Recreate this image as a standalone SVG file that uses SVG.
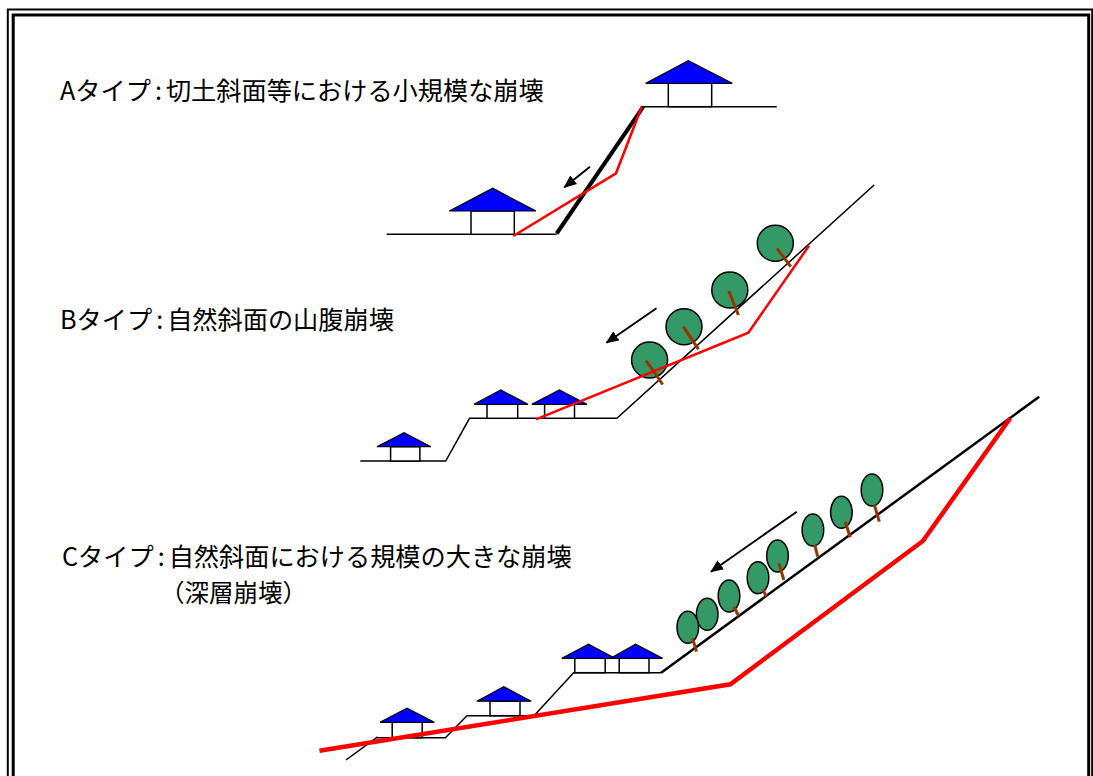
<svg xmlns="http://www.w3.org/2000/svg" width="1093" height="776" viewBox="0 0 1093 776">
  <style>
    .label { font-family: "Noto Sans CJK JP", "Liberation Sans", sans-serif; font-size: 25.2px; fill: #000; }
    .ground { fill: none; stroke: #000; stroke-width: 1.5; stroke-linejoin: miter; }
    .slip { fill: none; stroke: #ff0000; stroke-width: 2.5; stroke-linejoin: miter; }
    .roof { fill: #0000ff; stroke: #000; stroke-width: 1.2; stroke-linejoin: miter; }
    .wall { fill: #fff; stroke: #000; stroke-width: 1.5; }
    .crown { fill: #339966; stroke: #000; stroke-width: 1.5; }
    .trunk { stroke: #993300; stroke-width: 3; stroke-linecap: butt; }
    .flow { fill: none; stroke: #000; stroke-width: 2; marker-end: url(#head); }
  </style>
  <defs>
    <marker id="head" markerUnits="userSpaceOnUse" markerWidth="14" markerHeight="12" refX="12" refY="5.5" orient="auto">
      <path d="M0,0 L13,5.5 L0,11 z" fill="#000"/>
    </marker>
  </defs>

  <rect x="0" y="0" width="1093" height="776" fill="#fff"/>

  <!-- double frame -->
  <g id="frame" fill="none">
    <rect x="7.8" y="9.5" width="1084.4" height="800" stroke="#000" stroke-width="2"/>
    <rect x="13.2" y="15" width="1075.5" height="800" stroke="#000" stroke-width="3"/>
  </g>

  <!-- titles -->
  <g id="titles" class="label">
    <text x="60" y="100">Aタイプ<tspan dx="4">:</tspan><tspan dx="4">切土斜面等における小規模な崩壊</tspan></text>
    <text x="60" y="329">Bタイプ<tspan dx="4">:</tspan><tspan dx="4">自然斜面の山腹崩壊</tspan></text>
    <text x="62" y="566">Cタイプ<tspan dx="4">:</tspan><tspan dx="4">自然斜面における規模の大きな崩壊</tspan></text>
    <text x="160" y="602" style="font-size:24.5px">（深層崩壊）</text>
  </g>

  <!-- Type A: cut slope -->
  <g id="typeA">
    <polyline class="ground" points="386.7,234.3 556.7,234.3"/>
    <polyline class="ground" points="643,106.7 776.7,106.7"/>
    <line x1="643.3" y1="106.7" x2="556.7" y2="233.5" stroke="#000" stroke-width="4"/>
    <g id="houseA1">
      <rect class="wall" x="668.3" y="83.3" width="43.4" height="23.4"/>
      <polygon class="roof" points="645.7,83.3 688.3,60.7 732.3,83.3"/>
    </g>
    <g id="houseA2">
      <rect class="wall" x="471" y="211" width="43.3" height="23.3"/>
      <polygon class="roof" points="449.3,211 492.7,188.3 536,211"/>
    </g>
    <polyline class="slip" points="513.3,236 616,173.3 641.7,106.7"/>
  </g>

  <!-- Type B: natural slope, hillside failure -->
  <g id="typeB">
    <polyline class="ground" points="360.3,461 445.7,461 469.5,418.3 616.9,418.3 874.1,185"/>
    <g id="houseB1">
      <rect class="wall" x="390.6" y="446.7" width="29.3" height="14.3"/>
      <polygon class="roof" points="376.9,446.7 404.1,432.7 430.9,446.7"/>
    </g>
    <g id="houseB2">
      <rect class="wall" x="487" y="404.3" width="30.7" height="14"/>
      <polygon class="roof" points="474,404.3 500.8,390 528,404.3"/>
    </g>
    <g id="houseB3">
      <rect class="wall" x="544.6" y="404.3" width="29.9" height="14"/>
      <polygon class="roof" points="531.8,404.3 559.4,390 586.9,404.3"/>
    </g>
    <g id="treesB">
      <circle class="crown" cx="649.6" cy="360" r="18"/>
      <line class="trunk" x1="646.1" y1="360.7" x2="662.7" y2="384.5"/>
      <circle class="crown" cx="684" cy="326.7" r="18"/>
      <line class="trunk" x1="683.3" y1="326.7" x2="698.5" y2="349.3"/>
      <circle class="crown" cx="729.8" cy="290" r="18"/>
      <line class="trunk" x1="728.8" y1="291" x2="738.4" y2="315"/>
      <circle class="crown" cx="775.3" cy="243.3" r="18"/>
      <line class="trunk" x1="777" y1="248.3" x2="790.8" y2="266.7"/>
    </g>
    <polyline class="slip" points="536,419.3 748.4,332.7 809,245.7"/>
  </g>

  <!-- Type C: deep-seated failure -->
  <g id="typeC">
    <polyline class="ground" points="346,760 377.6,736.8"/>
    <polyline class="ground" points="376.7,737.7 445.4,737.7 467,715.7 534,715.7 573.6,672.7 661.1,672.7"/>
    <line x1="661.1" y1="672.7" x2="1039.2" y2="396.7" stroke="#000" stroke-width="2.5"/>
    <g id="houseC1">
      <rect class="wall" x="392.2" y="722.3" width="30" height="15.4"/>
      <polygon class="roof" points="380,722.3 407,708.3 434.3,722.3"/>
    </g>
    <g id="houseC2">
      <rect class="wall" x="490" y="701.2" width="30" height="14.5"/>
      <polygon class="roof" points="476.8,701.2 503.8,686.7 531.2,701.2"/>
    </g>
    <g id="houseC3">
      <rect class="wall" x="574.8" y="658.3" width="30.4" height="14.4"/>
      <polygon class="roof" points="561.8,658.3 588.5,644.3 615,658.3"/>
    </g>
    <g id="houseC4">
      <rect class="wall" x="619.2" y="658.3" width="29.8" height="14.4"/>
      <polygon class="roof" points="610.5,658.3 635.6,644.3 662.6,658.3"/>
    </g>
    <g id="treesC">
      <ellipse class="crown" cx="872" cy="490" rx="10.8" ry="16"/>
      <line class="trunk" x1="874.4" y1="505" x2="879.3" y2="521.7"/>
      <ellipse class="crown" cx="841.4" cy="512.3" rx="10.8" ry="16"/>
      <line class="trunk" x1="845.3" y1="521.7" x2="850.2" y2="537.3"/>
      <ellipse class="crown" cx="812.9" cy="530" rx="10.8" ry="16"/>
      <line class="trunk" x1="814.8" y1="545" x2="817.7" y2="556.7"/>
      <ellipse class="crown" cx="777.5" cy="556" rx="10.8" ry="16"/>
      <line class="trunk" x1="779" y1="563.3" x2="783.8" y2="580"/>
      <ellipse class="crown" cx="758" cy="577.7" rx="10.8" ry="16"/>
      <line class="trunk" x1="763" y1="589.3" x2="766.3" y2="596.7"/>
      <ellipse class="crown" cx="729" cy="596" rx="10.8" ry="16"/>
      <line class="trunk" x1="733.8" y1="606.7" x2="738.7" y2="616"/>
      <ellipse class="crown" cx="707.2" cy="614.3" rx="10.8" ry="16"/>
      <ellipse class="crown" cx="687.8" cy="627.3" rx="10.8" ry="16"/>
      <line class="trunk" x1="692.6" y1="638.3" x2="696.5" y2="651.7"/>
    </g>
    <polyline class="slip" style="stroke-width:4.5" points="319.4,750.7 730.4,684.3 922.9,541 1010.1,418.3"/>
  </g>

  <!-- movement arrows -->
  <g id="connectors">
    <line class="flow" x1="590" y1="166.7" x2="564.3" y2="187.3"/>
    <line class="flow" x1="656.5" y1="308.3" x2="606.5" y2="342.7"/>
    <line class="flow" x1="796.8" y1="511.7" x2="711" y2="571.7"/>
  </g>
</svg>
